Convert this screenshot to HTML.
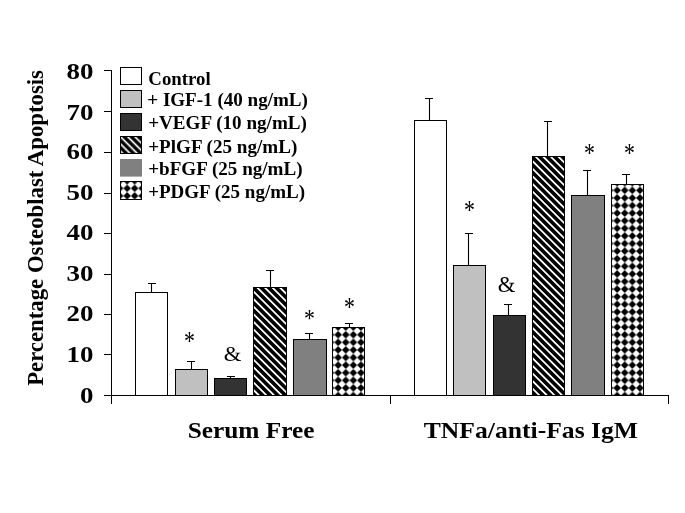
<!DOCTYPE html>
<html><head><meta charset="utf-8"><title>Osteoblast apoptosis chart</title><style>html,body{margin:0;padding:0;background:#fff;width:685px;height:513px;overflow:hidden}svg{display:block}</style></head><body>
<svg width="685" height="513" viewBox="0 0 685 513">
<defs>
<pattern id="stripe" patternUnits="userSpaceOnUse" width="5.3599" height="20" patternTransform="rotate(-45)" shape-rendering="crispEdges"><rect width="20" height="20" fill="#000"/><rect x="4.410" y="0" width="1.9" height="20" fill="#fff"/><rect x="-0.950" y="0" width="1.9" height="20" fill="#fff"/></pattern>
<pattern id="lstripe" patternUnits="userSpaceOnUse" width="5.0912" height="20" patternTransform="rotate(-45)"><rect width="20" height="20" fill="#000"/><rect x="2.968" y="0" width="1.7" height="20" fill="#fff"/><rect x="-2.123" y="0" width="1.7" height="20" fill="#fff"/></pattern>
<pattern id="diamS" patternUnits="userSpaceOnUse" x="334.35" y="399.35" width="7.6" height="7.6"><rect width="7.6" height="7.6" fill="#fff"/><polygon points="3.8,0 7.6,3.8 3.8,7.6 0,3.8" fill="#000"/></pattern>
<pattern id="diamT" patternUnits="userSpaceOnUse" x="613.35" y="399.35" width="7.6" height="7.6"><rect width="7.6" height="7.6" fill="#fff"/><polygon points="3.8,0 7.6,3.8 3.8,7.6 0,3.8" fill="#000"/></pattern>
<pattern id="ldiam" patternUnits="userSpaceOnUse" x="123.40" y="184.60" width="7.5" height="7.5"><rect width="7.5" height="7.5" fill="#fff"/><polygon points="3.75,0 7.5,3.75 3.75,7.5 0,3.75" fill="#000"/></pattern>
</defs>
<rect width="685" height="513" fill="#fff"/>
<rect x="135.5" y="292.5" width="32" height="103" fill="#ffffff" stroke="#000" stroke-width="1"/>
<path d="M151.5 292.5V283.5M148 283.5H156" stroke="#000" stroke-width="1.1" fill="none"/>
<rect x="175.5" y="369.5" width="32" height="26" fill="#c0c0c0" stroke="#000" stroke-width="1"/>
<path d="M191.5 369.5V361.5M187 361.5H195" stroke="#000" stroke-width="1.1" fill="none"/>
<rect x="214.5" y="378.5" width="32" height="17" fill="#333333" stroke="#000" stroke-width="1"/>
<path d="M230.5 378.5V376.5M227 376.5H235" stroke="#000" stroke-width="1.1" fill="none"/>
<rect x="253.5" y="287.5" width="33" height="108" fill="url(#stripe)" stroke="#000" stroke-width="1"/>
<path d="M270.5 287.5V270.5M266 270.5H274" stroke="#000" stroke-width="1.1" fill="none"/>
<rect x="293.5" y="339.5" width="33" height="56" fill="#808080" stroke="#000" stroke-width="1"/>
<path d="M309.5 339.5V333.5M305 333.5H313" stroke="#000" stroke-width="1.1" fill="none"/>
<rect x="332.5" y="327.5" width="32" height="68" fill="url(#diamS)" stroke="#000" stroke-width="1"/>
<path d="M349.5 327.5V323.5M345 323.5H353" stroke="#000" stroke-width="1.1" fill="none"/>
<rect x="414.5" y="120.5" width="32" height="275" fill="#ffffff" stroke="#000" stroke-width="1"/>
<path d="M429.5 120.5V98.5M425 98.5H433" stroke="#000" stroke-width="1.1" fill="none"/>
<rect x="453.5" y="265.5" width="32" height="130" fill="#c0c0c0" stroke="#000" stroke-width="1"/>
<path d="M468.5 265.5V233.5M465 233.5H473" stroke="#000" stroke-width="1.1" fill="none"/>
<rect x="493.5" y="315.5" width="32" height="80" fill="#333333" stroke="#000" stroke-width="1"/>
<path d="M508.5 315.5V304.5M504 304.5H512" stroke="#000" stroke-width="1.1" fill="none"/>
<rect x="532.5" y="156.5" width="32" height="239" fill="url(#stripe)" stroke="#000" stroke-width="1"/>
<path d="M547.5 156.5V121.5M544 121.5H552" stroke="#000" stroke-width="1.1" fill="none"/>
<rect x="571.5" y="195.5" width="33" height="200" fill="#808080" stroke="#000" stroke-width="1"/>
<path d="M587.5 195.5V170.5M583 170.5H591" stroke="#000" stroke-width="1.1" fill="none"/>
<rect x="611.5" y="184.5" width="32" height="211" fill="url(#diamT)" stroke="#000" stroke-width="1"/>
<path d="M626.5 184.5V174.5M622 174.5H630" stroke="#000" stroke-width="1.1" fill="none"/>
<g stroke="#000" stroke-width="1" fill="none">
<path d="M111.5 70V404M104 395.5H669M390.5 395V404M668.5 395V404"/>
<path d="M104 70.5H111M104 111.5H111M104 152.5H111M104 193.5H111M104 233.5H111M104 274.5H111M104 314.5H111M104 354.5H111"/>
</g>
<rect x="120.5" y="67.5" width="21" height="17" fill="#ffffff" stroke="#000" stroke-width="1"/>
<rect x="120.5" y="90.5" width="21" height="17" fill="#c0c0c0" stroke="#000" stroke-width="1"/>
<rect x="120.5" y="113.5" width="21" height="17" fill="#333333" stroke="#000" stroke-width="1"/>
<rect x="120.5" y="136.5" width="21" height="17" fill="url(#lstripe)" stroke="#000" stroke-width="1"/>
<rect x="120" y="159" width="22" height="17.6" fill="#808080"/>
<rect x="120.5" y="181.5" width="21" height="18" fill="url(#ldiam)" stroke="#000" stroke-width="1"/>
<text transform="translate(66.46,78.56) scale(1.0768,0.9650)" font-family='"Liberation Serif","Times New Roman",serif' font-size="25" font-weight="bold" fill="#000">80</text>
<text transform="translate(66.46,119.6) scale(1.0768,0.9650)" font-family='"Liberation Serif","Times New Roman",serif' font-size="25" font-weight="bold" fill="#000">70</text>
<text transform="translate(66.46,159.35) scale(1.0768,0.9650)" font-family='"Liberation Serif","Times New Roman",serif' font-size="25" font-weight="bold" fill="#000">60</text>
<text transform="translate(66.46,200.1) scale(1.0768,0.9650)" font-family='"Liberation Serif","Times New Roman",serif' font-size="25" font-weight="bold" fill="#000">50</text>
<text transform="translate(66.46,240.35) scale(1.0768,0.9650)" font-family='"Liberation Serif","Times New Roman",serif' font-size="25" font-weight="bold" fill="#000">40</text>
<text transform="translate(66.46,280.5) scale(1.0768,0.9650)" font-family='"Liberation Serif","Times New Roman",serif' font-size="25" font-weight="bold" fill="#000">30</text>
<text transform="translate(66.46,321.35) scale(1.0768,0.9650)" font-family='"Liberation Serif","Times New Roman",serif' font-size="25" font-weight="bold" fill="#000">20</text>
<text transform="translate(66.46,362.4) scale(1.0768,0.9650)" font-family='"Liberation Serif","Times New Roman",serif' font-size="25" font-weight="bold" fill="#000">10</text>
<text transform="translate(79.92,402.5) scale(1.0768,0.9650)" font-family='"Liberation Serif","Times New Roman",serif' font-size="25" font-weight="bold" fill="#000">0</text>
<text transform="translate(148.31,84.9) scale(1.0179,1)" font-family='"Liberation Serif","Times New Roman",serif' font-size="18.5" font-weight="bold" fill="#000">Control</text>
<text transform="translate(147.27,106.4) scale(1.0310,1)" font-family='"Liberation Serif","Times New Roman",serif' font-size="18.5" font-weight="bold" fill="#000">+ IGF-1 (40 ng/mL)</text>
<text transform="translate(148.17,128.9) scale(1.0336,1)" font-family='"Liberation Serif","Times New Roman",serif' font-size="18.5" font-weight="bold" fill="#000">+VEGF (10 ng/mL)</text>
<text transform="translate(148.17,152.9) scale(1.0328,1)" font-family='"Liberation Serif","Times New Roman",serif' font-size="18.5" font-weight="bold" fill="#000">+PlGF (25 ng/mL)</text>
<text transform="translate(148.17,174.8) scale(1.0326,1)" font-family='"Liberation Serif","Times New Roman",serif' font-size="18.5" font-weight="bold" fill="#000">+bFGF (25 ng/mL)</text>
<text transform="translate(148.17,197.5) scale(1.0280,1)" font-family='"Liberation Serif","Times New Roman",serif' font-size="18.5" font-weight="bold" fill="#000">+PDGF (25 ng/mL)</text>
<text transform="translate(187.68,437.8) scale(1.0560,1)" font-family='"Liberation Serif","Times New Roman",serif' font-size="24" font-weight="bold" fill="#000">Serum Free</text>
<text transform="translate(423.70,437.9) scale(1.0685,1)" font-family='"Liberation Serif","Times New Roman",serif' font-size="24" font-weight="bold" fill="#000">TNFa/anti-Fas IgM</text>
<text transform="translate(42.5,385.87) rotate(-90) scale(0.9911,1)" font-family='"Liberation Serif","Times New Roman",serif' font-size="23" font-weight="bold" fill="#000">Percentage Osteoblast Apoptosis</text>
<text transform="translate(183.95,350.46) scale(0.8381,1.0211)" font-family='"Liberation Serif","Times New Roman",serif' font-size="26" font-weight="normal" fill="#000">*</text>
<text transform="translate(304.05,327.26) scale(0.8381,0.9684)" font-family='"Liberation Serif","Times New Roman",serif' font-size="26" font-weight="normal" fill="#000">*</text>
<text transform="translate(344.05,316.38) scale(0.8381,1.0105)" font-family='"Liberation Serif","Times New Roman",serif' font-size="26" font-weight="normal" fill="#000">*</text>
<text transform="translate(464.05,219.38) scale(0.8381,1.0105)" font-family='"Liberation Serif","Times New Roman",serif' font-size="26" font-weight="normal" fill="#000">*</text>
<text transform="translate(583.95,162.18) scale(0.8381,1.0105)" font-family='"Liberation Serif","Times New Roman",serif' font-size="26" font-weight="normal" fill="#000">*</text>
<text transform="translate(624.05,162.18) scale(0.8381,1.0105)" font-family='"Liberation Serif","Times New Roman",serif' font-size="26" font-weight="normal" fill="#000">*</text>
<text transform="translate(223.69,360.64) scale(1.0820,1.0478)" font-family='"Liberation Serif","Times New Roman",serif' font-size="21" font-weight="normal" fill="#000">&amp;</text>
<text transform="translate(497.69,292.43) scale(1.0820,1.0973)" font-family='"Liberation Serif","Times New Roman",serif' font-size="21" font-weight="normal" fill="#000">&amp;</text>
</svg></body></html>
